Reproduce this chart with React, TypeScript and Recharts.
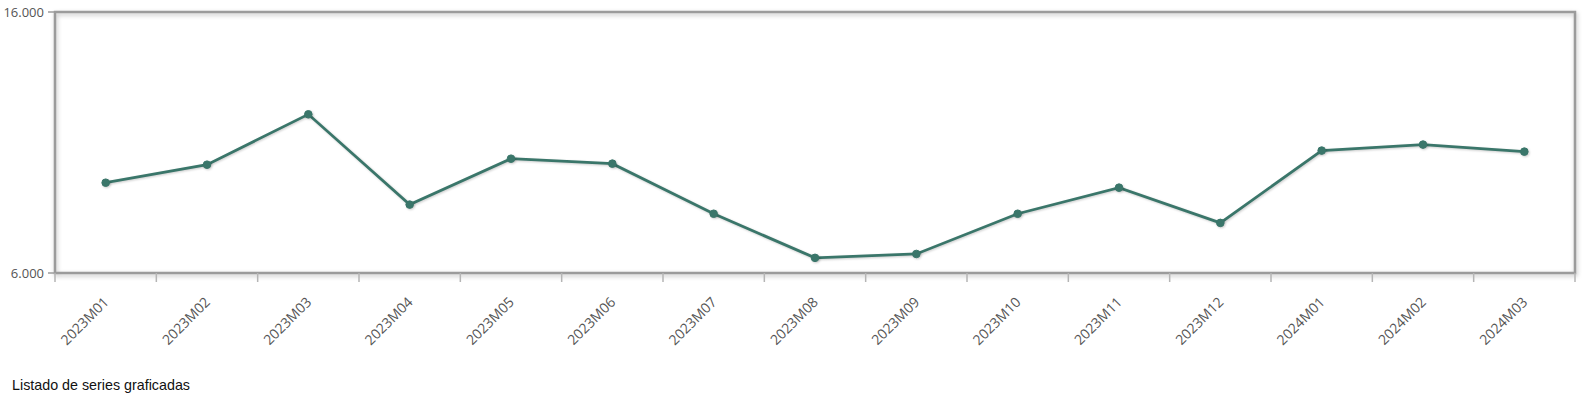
import React from 'react';
import { LineChart, Line, XAxis, YAxis, ReferenceArea } from 'recharts';

const MONTHS = [
  '2023M01', '2023M02', '2023M03', '2023M04', '2023M05', '2023M06', '2023M07', '2023M08',
  '2023M09', '2023M10', '2023M11', '2023M12', '2024M01', '2024M02', '2024M03',
];
const VALUES = [9460, 10150, 12080, 8620, 10380, 10190, 8270, 6580, 6730, 8270, 9270, 7920, 10690, 10920, 10650];
const Y_TICKS = [6000, 16000];
const Y_DOMAIN: [number, number] = [6000, 16000];
const X_DOMAIN: [number, number] = [-0.5, MONTHS.length - 0.5];

const data = MONTHS.map((m, i) => ({ idx: i, month: m, value: VALUES[i] }));
// ticks at band boundaries (tick marks) and band centres (labels)
const X_TICKS: number[] = [];
for (let i = 0; i <= MONTHS.length * 2; i++) X_TICKS.push(-0.5 + i / 2);

const LINE_COLOR = '#3a766a';
const AXIS_COLOR = '#9b9b9b';
const FONT = '"Open Sans", "Liberation Sans", Arial, sans-serif';

const fmt = (v: number) => String(v).replace(/\B(?=(\d{3})+(?!\d))/g, '.');

const XTick = (props: any) => {
  const { x, y, payload } = props;
  const v = payload.value as number;
  if (!Number.isInteger(v)) {
    return <line x1={x} x2={x} y1={y} y2={y + 9} stroke="#b5b5b5" strokeWidth={1.5} />;
  }
  const tx = x + 4;
  const ty = y + 30;
  return (
    <text
      x={tx}
      y={ty}
      textAnchor="end"
      transform={`rotate(-45 ${tx} ${ty})`}
      fill="#555"
      fontSize={14}
      fontFamily={FONT}
    >
      {MONTHS[v]}
    </text>
  );
};

export default function App() {
  return (
    <div style={{ position: 'absolute', left: 0, top: 0, width: 1582, height: 397, background: '#fff' }}>
      <LineChart width={1582} height={360} data={data} margin={{ top: 12, right: 7, left: 0, bottom: 0 }}>
        <XAxis
          dataKey="idx"
          type="number"
          domain={X_DOMAIN}
          ticks={X_TICKS}
          interval={0}
          tick={<XTick />}
          tickLine={false}
          tickSize={0}
          tickMargin={0}
          axisLine={false}
          height={87}
          allowDataOverflow
        />
        <YAxis
          type="number"
          domain={Y_DOMAIN}
          ticks={Y_TICKS}
          interval={0}
          width={55}
          tickFormatter={fmt}
          tickLine={{ stroke: AXIS_COLOR, strokeWidth: 1.5 }}
          tickSize={7}
          tickMargin={4}
          axisLine={false}
          tick={{ fill: '#555', fontSize: 13, fontFamily: FONT }}
        />
        <ReferenceArea
          x1={X_DOMAIN[0]}
          x2={X_DOMAIN[1]}
          y1={Y_DOMAIN[0]}
          y2={Y_DOMAIN[1]}
          fill="none"
          stroke={AXIS_COLOR}
          strokeWidth={2.5}
          fillOpacity={1}
          strokeOpacity={1}
          style={{ filter: 'drop-shadow(1px 2px 2px rgba(0,0,0,0.25))' }}
        />
        <Line
          type="linear"
          dataKey="value"
          stroke={LINE_COLOR}
          strokeWidth={2.8}
          dot={{ r: 3.8, fill: LINE_COLOR, stroke: LINE_COLOR, strokeWidth: 1 }}
          activeDot={false}
          isAnimationActive={false}
          style={{ filter: 'drop-shadow(1px 1px 1px rgba(0,0,0,0.2))' }}
        />
      </LineChart>
      <div
        style={{
          position: 'absolute',
          left: 12,
          top: 377,
          fontFamily: '"Liberation Sans", Arial, sans-serif',
          fontSize: 14.3,
          color: '#111',
          whiteSpace: 'nowrap',
        }}
      >
        Listado de series graficadas
      </div>
    </div>
  );
}
